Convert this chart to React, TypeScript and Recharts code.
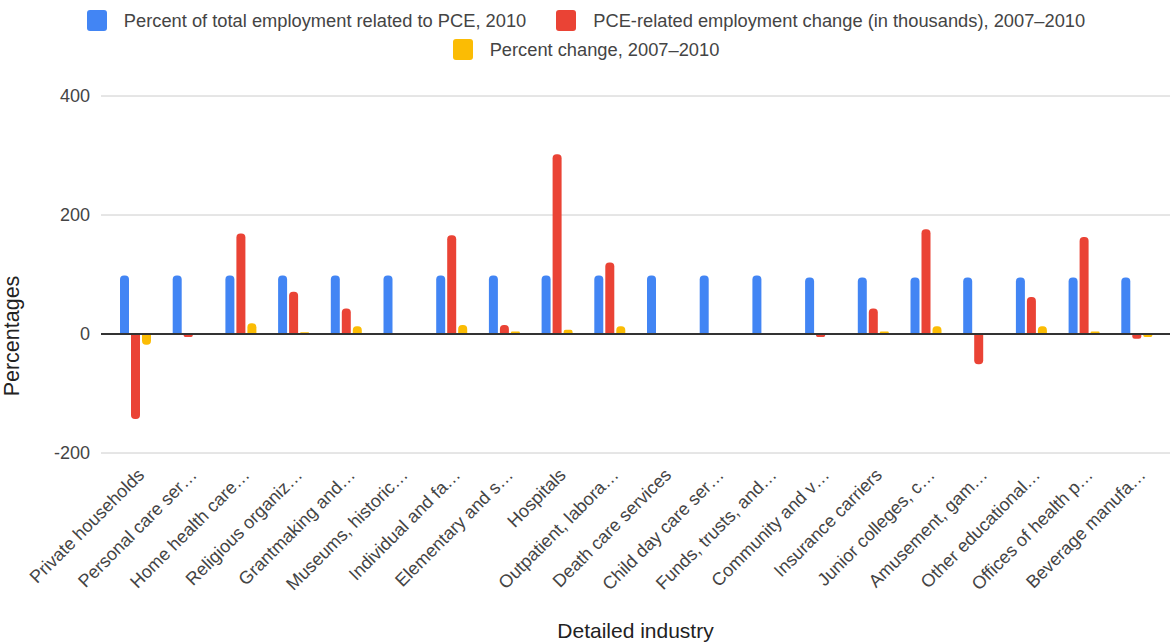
import { BarChart, Bar, XAxis, YAxis, CartesianGrid, ReferenceLine, Label } from 'recharts'

const industries = [
  'Private households',
  'Personal care ser…',
  'Home health care…',
  'Religious organiz…',
  'Grantmaking and…',
  'Museums, historic…',
  'Individual and fa…',
  'Elementary and s…',
  'Hospitals',
  'Outpatient, labora…',
  'Death care services',
  'Child day care ser…',
  'Funds, trusts, and…',
  'Community and v…',
  'Insurance carriers',
  'Junior colleges, c…',
  'Amusement, gam…',
  'Other educational…',
  'Offices of health p…',
  'Beverage manufa…',
]

const pceShare2010 = [98.5, 98.5, 98.5, 98.5, 98.5, 98.5, 98.5, 98.5, 98.5, 98.5, 98.5, 98.5, 98.5, 95, 95, 95, 95, 95, 95, 95]
const employmentChange = [-143, -5, 169, 71, 43, -1, 166, 15, 302, 120, -1, 0, -1, -5, 43, 176, -51, 62, 163, -8]
const percentChange = [-18, 0, 18, 3, 13, -1, 15, 4, 7, 13, -1, 0, -1, 0, 4, 13, -1, 13, 4, -5]

const yTicks = [-200, 0, 200, 400]

const FONT = '"Liberation Sans", Arial, sans-serif'
const BLUE = '#4285f4'
const RED = '#ea4335'
const YELLOW = '#fbbc04'

const legendItems = [
  { label: 'Percent of total employment related to PCE, 2010', color: BLUE, row: 0 },
  { label: 'PCE-related employment change (in thousands), 2007–2010', color: RED, row: 0 },
  { label: 'Percent change, 2007–2010', color: YELLOW, row: 1 },
]

const data = industries.map((name, i) => ({
  name,
  share: pceShare2010[i],
  change: employmentChange[i],
  pct: percentChange[i],
}))

function AngledTick({ x, y, payload }: any) {
  return (
    <g transform={`translate(${x + 1},${y + 6})`}>
      <text
        x={0}
        y={0}
        dy="0.71em"
        textAnchor="end"
        transform="rotate(-45)"
        fill="#444"
        fontSize={18}
        fontFamily={FONT}
      >
        {payload.value}
      </text>
    </g>
  )
}

function LegendRow({ row }: { row: number }) {
  return (
    <div style={{ display: 'flex', justifyContent: 'center', gap: 30, height: 29, alignItems: 'center' }}>
      {legendItems
        .filter(it => it.row === row)
        .map(it => (
          <div key={it.label} style={{ display: 'flex', alignItems: 'center' }}>
            <span
              style={{
                display: 'inline-block',
                width: 20,
                height: 21,
                borderRadius: 3,
                background: it.color,
                marginRight: 17,
              }}
            />
            <span style={{ fontSize: 18.3, color: '#444', fontFamily: FONT }}>{it.label}</span>
          </div>
        ))}
    </div>
  )
}

export default function App() {
  return (
    <div style={{ position: 'relative', width: 1172, height: 644, background: '#fff', fontFamily: FONT }}>
      <style>{`body{margin:0}`}</style>
      <div style={{ position: 'absolute', left: 0, top: 6, width: 1172 }}>
        <LegendRow row={0} />
        <LegendRow row={1} />
      </div>
      <BarChart
        width={1172}
        height={644}
        data={data}
        margin={{ top: 96, right: 2, bottom: 0, left: 0 }}
        barSize={9}
        barGap={2}
      >
        <CartesianGrid vertical={false} stroke="#cccccc" />
        <XAxis
          dataKey="name"
          interval={0}
          axisLine={false}
          tickLine={false}
          tick={<AngledTick />}
          height={191}
          padding={{ left: 8, right: 7 }}
        >
          <Label
            value="Detailed industry"
            position="insideBottom"
            offset={6}
            fill="#222"
            fontSize={21}
            fontFamily={FONT}
          />
        </XAxis>
        <YAxis
          domain={[-200, 400]}
          ticks={yTicks}
          width={101}
          axisLine={false}
          tickLine={false}
          tickMargin={5}
          tick={{ fill: '#444', fontSize: 18, fontFamily: FONT }}
        >
          <Label
            content={() => (
              <text
                x={12}
                y={336}
                transform="rotate(-90, 12, 336)"
                textAnchor="middle"
                dominantBaseline="central"
                fill="#222"
                fontSize={21.5}
                fontFamily={FONT}
              >
                Percentages
              </text>
            )}
          />
        </YAxis>
        <ReferenceLine y={0} stroke="#333" strokeWidth={2} />
        <Bar dataKey="share" fill={BLUE} radius={[4, 4, 0, 0]} isAnimationActive={false} />
        <Bar dataKey="change" fill={RED} radius={[4, 4, 0, 0]} isAnimationActive={false} />
        <Bar dataKey="pct" fill={YELLOW} radius={[4, 4, 0, 0]} isAnimationActive={false} />
      </BarChart>
    </div>
  )
}
